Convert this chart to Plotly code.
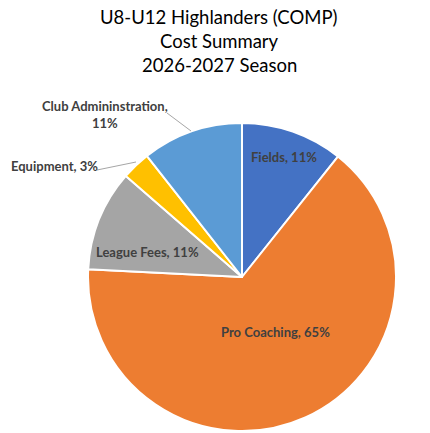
import plotly.graph_objects as go

# cost share by category (percent of total)
categories = ['Fields', 'Pro Coaching', 'League Fees', 'Equipment', 'Club Admininstration']
shares = [10.7, 65.1, 10.6, 3.0, 10.6]
colours = ['#4472C4', '#ED7D31', '#A5A5A5', '#FFC000', '#5B9BD5']
title_lines = ['U8-U12 Highlanders (COMP)', 'Cost Summary', '2026-2027 Season']

W, H = 430, 433
cx, cy, r = 242, 277, 154

pie = go.Pie(
    labels=categories,
    values=shares,
    sort=False,
    direction='clockwise',
    marker=dict(colors=colours, line=dict(color='white', width=2)),
    textinfo='none',
    hoverinfo='label+percent',
    domain=dict(x=[(cx - r) / W, (cx + r) / W], y=[(H - cy - r) / H, (H - cy + r) / H]),
    showlegend=False,
)

fig = go.Figure(pie)

# data labels, placed like the Excel chart (pixel centres)
pct = [round(v / sum(shares) * 100) for v in shares]
label_pos = [(284, 157), (275, 332), (147, 252), (54, 166), (105, 115)]
for i, (lx, ly) in enumerate(label_pos):
    sep = ',<br>' if i == 4 else ', '
    fig.add_annotation(x=lx / W, y=1 - ly / H, xref='paper', yref='paper',
                       xanchor='center', yanchor='middle',
                       text='<b>' + categories[i] + sep + str(pct[i]) + '%</b>',
                       showarrow=False, align='center',
                       font=dict(family='Lato', size=13, color='#404040'))

# leader lines for the two outside labels
leaders = [(167, 113, 191, 131), (97, 170, 136, 162)]
for x0, y0, x1, y1 in leaders:
    fig.add_shape(type='line', xref='paper', yref='paper', x0=x0 / W, y0=1 - y0 / H, x1=x1 / W, y1=1 - y1 / H,
                  line=dict(color='#A6A6A6', width=1))

# title, one line at a time
for ty, line in zip([17, 41, 65], title_lines):
    fig.add_annotation(x=219 / W, y=1 - ty / H, xref='paper', yref='paper',
                       xanchor='center', yanchor='middle', text=line, showarrow=False,
                       font=dict(family='Lato', size=18.5, color='#000000'))

fig.update_layout(
    width=W, height=H,
    margin=dict(l=0, r=0, t=0, b=0),
    paper_bgcolor='white',
)

fig.write_html('out.html', config={'displayModeBar': False},
               post_script="document.body.style.margin='0';")
